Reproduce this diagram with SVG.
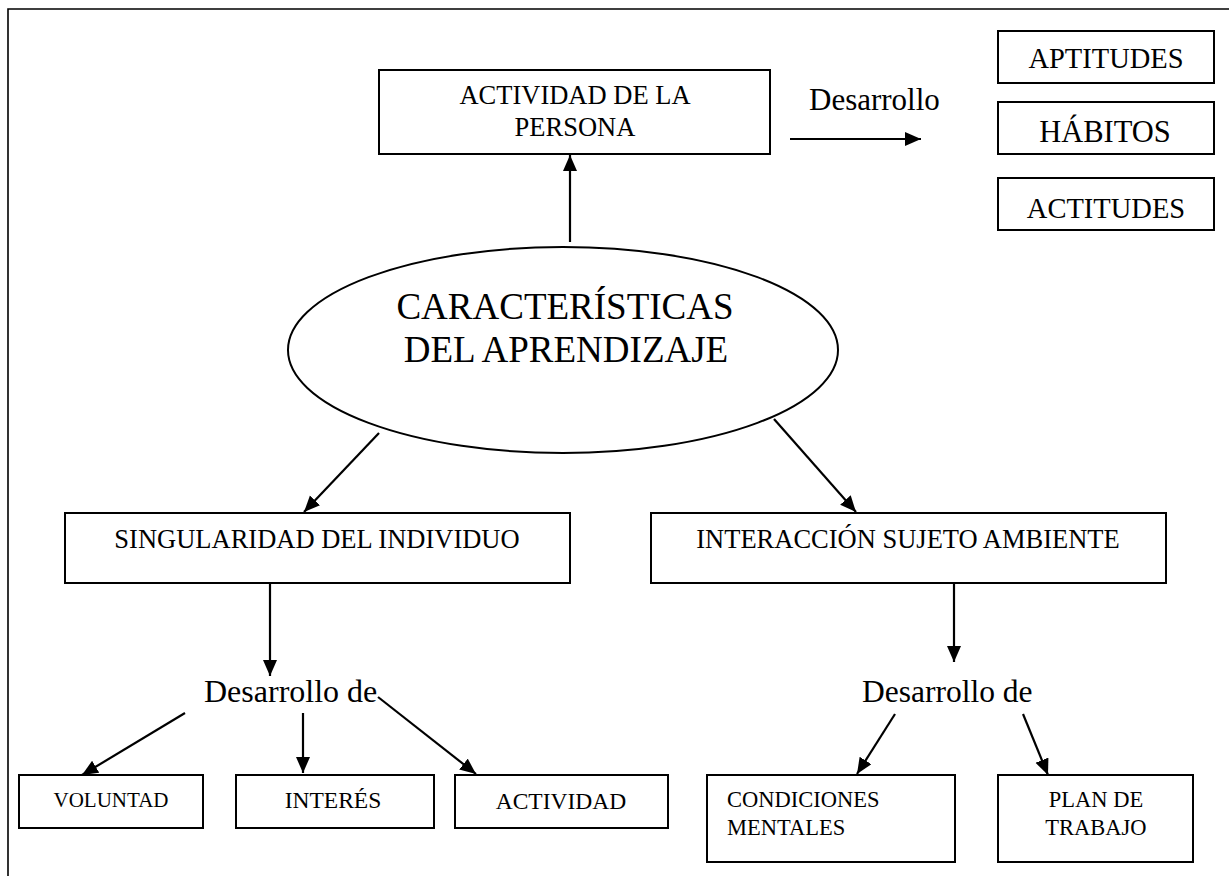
<svg xmlns="http://www.w3.org/2000/svg" width="1229" height="876" viewBox="0 0 1229 876">
<defs>
<style>
.box{fill:#fff;stroke:#000;stroke-width:2}
.t{font-family:"Liberation Serif","Times New Roman",serif;fill:#000}
.c{text-anchor:middle}
.ln{stroke:#000;stroke-width:2.2;fill:none}
</style>
<marker id="ah" markerUnits="userSpaceOnUse" markerWidth="17" markerHeight="15" refX="16" refY="7" orient="auto">
<path d="M0,0 L16,7 L0,14 z" fill="#000"/>
</marker>
</defs>
<rect width="1229" height="876" fill="#fff"/>
<path d="M8,876 V9 H1229" fill="none" stroke="#000" stroke-width="1.6"/>

<g id="actividad-persona">
<rect class="box" x="379" y="70" width="391" height="84"/>
<text class="t c" x="575" y="104" font-size="26.5">ACTIVIDAD DE LA</text>
<text class="t c" x="575" y="136" font-size="26.5">PERSONA</text>
</g>
<g id="desarrollo-top">
<text class="t" x="809" y="110" font-size="31">Desarrollo</text>
</g>
<g id="aptitudes">
<rect class="box" x="998" y="31" width="216" height="52"/>
<text class="t c" x="1106" y="68" font-size="28.5">APTITUDES</text>
</g>
<g id="habitos">
<rect class="box" x="998" y="102" width="216" height="52"/>
<text class="t c" x="1105" y="142" font-size="30.5">HÁBITOS</text>
</g>
<g id="actitudes">
<rect class="box" x="998" y="178" width="216" height="52"/>
<text class="t c" x="1106" y="218" font-size="28.5">ACTITUDES</text>
</g>
<g id="caracteristicas">
<ellipse cx="563" cy="350" rx="275" ry="103" fill="#fff" stroke="#000" stroke-width="2"/>
<text class="t c" x="565" y="319" font-size="37">CARACTERÍSTICAS</text>
<text class="t c" x="566" y="362" font-size="37">DEL APRENDIZAJE</text>
</g>
<g id="singularidad">
<rect class="box" x="65" y="513" width="505" height="70"/>
<text class="t c" x="317" y="548" font-size="26.5">SINGULARIDAD DEL INDIVIDUO</text>
</g>
<g id="interaccion">
<rect class="box" x="651" y="513" width="515" height="70"/>
<text class="t c" x="908" y="548" font-size="26.5">INTERACCIÓN SUJETO AMBIENTE</text>
</g>
<g id="desarrollo-de-izq">
<text class="t" x="204" y="702" font-size="32">Desarrollo de</text>
</g>
<g id="desarrollo-de-der">
<text class="t" x="862" y="702" font-size="31.5">Desarrollo de</text>
</g>
<g id="voluntad">
<rect class="box" x="19" y="775" width="184" height="53"/>
<text class="t c" x="111" y="807" font-size="21">VOLUNTAD</text>
</g>
<g id="interes">
<rect class="box" x="236" y="775" width="198" height="53"/>
<text class="t c" x="333" y="808" font-size="23.5">INTERÉS</text>
</g>
<g id="actividad">
<rect class="box" x="455" y="775" width="213" height="53"/>
<text class="t c" x="561" y="809" font-size="23.5">ACTIVIDAD</text>
</g>
<g id="condiciones">
<rect class="box" x="707" y="775" width="248" height="87"/>
<text class="t" x="727" y="807" font-size="22.5">CONDICIONES</text>
<text class="t" x="727" y="835" font-size="22.5">MENTALES</text>
</g>
<g id="plan">
<rect class="box" x="998" y="775" width="195" height="87"/>
<text class="t c" x="1096" y="807" font-size="22.5">PLAN DE</text>
<text class="t c" x="1096" y="835" font-size="22.5">TRABAJO</text>
</g>

<g id="connectors">
<line class="ln" x1="570" y1="242" x2="570" y2="155" marker-end="url(#ah)"/>
<line class="ln" x1="790" y1="139" x2="921" y2="139" marker-end="url(#ah)"/>
<line class="ln" x1="379" y1="433" x2="304" y2="512" marker-end="url(#ah)"/>
<line class="ln" x1="774" y1="419" x2="856" y2="512" marker-end="url(#ah)"/>
<line class="ln" x1="270" y1="583" x2="270" y2="676" marker-end="url(#ah)"/>
<line class="ln" x1="954" y1="583" x2="954" y2="662" marker-end="url(#ah)"/>
<line class="ln" x1="185" y1="713" x2="82" y2="775" marker-end="url(#ah)"/>
<line class="ln" x1="303" y1="713" x2="303" y2="773" marker-end="url(#ah)"/>
<line class="ln" x1="378" y1="697" x2="476" y2="774" marker-end="url(#ah)"/>
<line class="ln" x1="895" y1="714" x2="857" y2="774" marker-end="url(#ah)"/>
<line class="ln" x1="1023" y1="714" x2="1048" y2="775" marker-end="url(#ah)"/>
</g>
</svg>
